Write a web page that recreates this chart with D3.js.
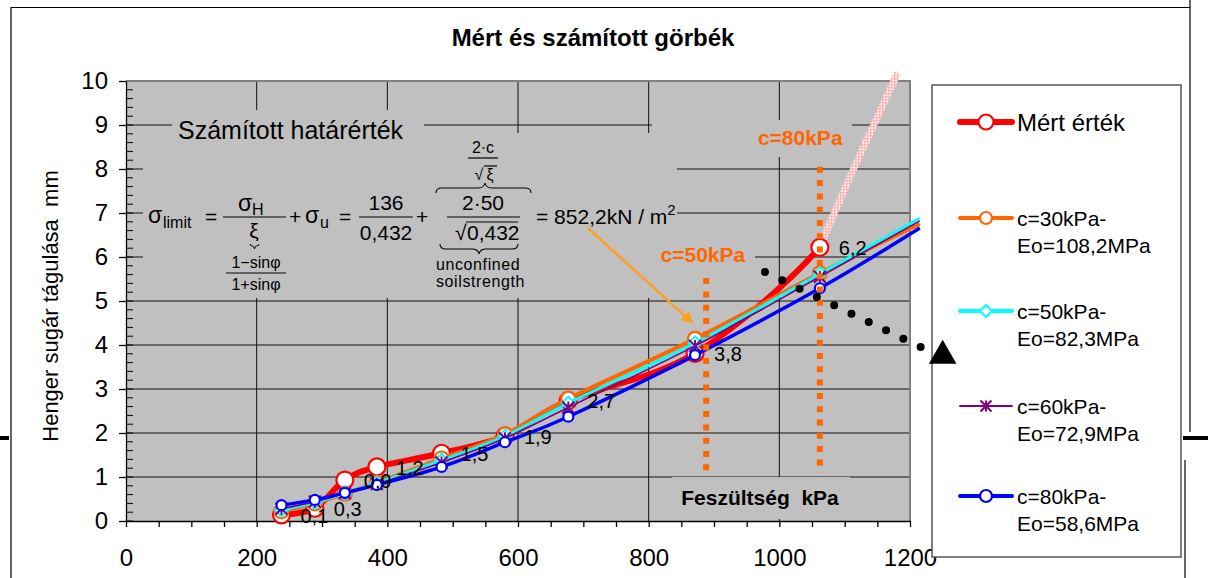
<!DOCTYPE html>
<html>
<head>
<meta charset="utf-8">
<script src="https://cdn.jsdelivr.net/npm/d3@7/dist/d3.min.js"></script>
<style>
  body { margin: 0; background: #fff; }
  text { font-family: Arial, "Liberation Sans", sans-serif; fill: #000; }
</style>
</head>
<body>
<div id="chart"></div>
<script>
const width = 1208,
    height = 578;

// mért pontok (feszültség kPa -> tágulás mm)
const stress = [238, 289, 335, 384, 483, 580, 677, 871, 1062];
const measured = [0.14, 0.29, 0.93, 1.23, 1.54, 1.93, 2.74, 3.81, 6.22];

// számított görbék, az utolsó pont a tengelyen túl (jelölő nélkül)
const stressModel = [238, 289, 335, 384, 483, 580, 677, 871, 1062, 1215];
const c30 = [0.22, 0.40, 0.62, 0.87, 1.42, 1.97, 2.78, 4.14, 5.63, 6.75];
const c50 = [0.25, 0.42, 0.63, 0.86, 1.38, 1.93, 2.68, 4.05, 5.62, 6.88];
const c60 = [0.28, 0.44, 0.63, 0.84, 1.33, 1.88, 2.58, 3.98, 5.55, 6.82];
const c80 = [0.36, 0.48, 0.64, 0.82, 1.23, 1.79, 2.37, 3.77, 5.29, 6.66];

const xTicks = [0, 200, 400, 600, 800, 1000, 1200];
const yTicks = [0, 1, 2, 3, 4, 5, 6, 7, 8, 9, 10];

// rózsaszín folytatás a mért görbe végén
const pinkX = [1062, 1073, 1113, 1143, 1181];
const pinkY = [6.22, 6.61, 7.98, 8.95, 10.18];

// fekete pontozott nyíl
const dotX = [978, 1217];
const dotY = [5.66, 3.95];
const triX = [1250];
const triY = [3.8];

// határérték függőleges vonalak (c=50kPa, c=80kPa)
const limitX = [888, 1062];
const limitTop = [5.52, 8.05];
const limitBottom = 1.09;
const limitNames = ['c=50kPa', 'c=80kPa'];
const limitLabelY = [6.07, 8.73];
const limitLabelX = [883, 1032];

// narancs nyíl a képlettől
const arrowX = [707, 866];
const arrowY = [6.66, 4.52];

const svg = d3.select('#chart')
    .append('svg')
    .attr('width', width)
    .attr('height', height);

const x = d3.scaleLinear().domain([0, 1200]).range([126, 910]);
const y = d3.scaleLinear().domain([0, 10]).range([521, 81]);

const defs = svg.append('defs');
const hatch = defs.append('pattern')
    .attr('id', 'pinkHatch')
    .attr('width', 3).attr('height', 3)
    .attr('patternUnits', 'userSpaceOnUse');
hatch.append('rect').attr('width', 3).attr('height', 3).attr('fill', '#ffcccc');
hatch.append('rect').attr('width', 1.5).attr('height', 1.5).attr('fill', '#ffa3a3');
hatch.append('rect').attr('x', 1.5).attr('y', 1.5).attr('width', 1.5).attr('height', 1.5).attr('fill', '#ffeeee');

defs.append('marker')
    .attr('id', 'arrowHead')
    .attr('viewBox', '0 0 10 10')
    .attr('refX', 8).attr('refY', 5)
    .attr('markerWidth', 5).attr('markerHeight', 5)
    .attr('orient', 'auto')
    .append('path')
    .attr('d', 'M0,0 L10,5 L0,10 z')
    .attr('fill', '#ffa020');

// a mért görbe a rózsaszín folytatás irányába simul, de az utolsó mért pontnál vége
defs.append('clipPath')
    .attr('id', 'redClip')
    .append('rect')
    .attr('x', 0).attr('y', 0)
    .attr('width', x(stress[stress.length - 1])).attr('height', height);

// keret
const frame = svg.append('g').attr('stroke', '#000').attr('fill', 'none');
frame.append('path').attr('d', 'M11,578 L11,7.5 L1190,7.5').attr('stroke-width', 1.2);
frame.append('path').attr('d', 'M1190,0 L1190,432').attr('stroke-width', 1.2);
frame.append('path').attr('d', 'M1185,460 L1185,578').attr('stroke-width', 1.2);
frame.append('path').attr('d', 'M1183,438 L1208,438').attr('stroke-width', 4);
frame.append('path').attr('d', 'M0,438 L9,438').attr('stroke-width', 4);

// cím
svg.append('text')
    .attr('x', 593).attr('y', 46)
    .attr('text-anchor', 'middle')
    .attr('font-size', 24)
    .attr('font-weight', 'bold')
    .text('Mért és számított görbék');

// rajzterület
svg.append('rect')
    .attr('x', x(0)).attr('y', y(10))
    .attr('width', x(1200) - x(0)).attr('height', y(0) - y(10))
    .attr('fill', '#c0c0c0');

const grid = svg.append('g').attr('stroke', '#111').attr('stroke-width', 1);
grid.selectAll('.hg')
    .data(yTicks.filter(d => d > 0 && d < 10))
    .enter().append('line')
    .attr('x1', x(0)).attr('x2', x(1200))
    .attr('y1', d => y(d)).attr('y2', d => y(d));
grid.selectAll('.vg')
    .data(xTicks.filter(d => d > 0 && d < 1200))
    .enter().append('line')
    .attr('y1', y(0)).attr('y2', y(10))
    .attr('x1', d => x(d)).attr('x2', d => x(d));

svg.append('path')
    .attr('d', `M${x(0)},${y(10)} L${x(1200)},${y(10)} L${x(1200)},${y(0)}`)
    .attr('fill', 'none').attr('stroke', '#808080').attr('stroke-width', 2);

// szöveg hátterek (eltakarják a rácsot)
const bg = svg.append('g').attr('fill', '#c0c0c0');
bg.append('rect').attr('x', 172).attr('y', 110).attr('width', 252).attr('height', 38);
bg.append('rect').attr('x', 143).attr('y', 133).attr('width', 534).attr('height', 165);
bg.append('rect').attr('x', 652).attr('y', 236).attr('width', 103).attr('height', 38);
bg.append('rect').attr('x', 652).attr('y', 120).attr('width', 200).attr('height', 37);
bg.append('rect').attr('x', 672).attr('y', 477).attr('width', 178).attr('height', 42);

// tengelyek
const xAxis = d3.axisBottom(x)
    .tickValues(d3.range(0, 1201, 50))
    .tickSize(6).tickSizeOuter(0).tickPadding(22)
    .tickFormat(d => d % 200 === 0 ? d : '');
svg.append('g')
    .attr('transform', `translate(0,${y(0)})`)
    .call(xAxis)
    .call(g => g.selectAll('text').attr('font-size', 24).attr('font-family', 'Arial, "Liberation Sans", sans-serif'))
    .call(g => g.selectAll('line, path').attr('stroke', '#000').attr('stroke-width', 1.3));

const yAxis = d3.axisLeft(y)
    .tickValues(yTicks)
    .tickSize(7).tickSizeOuter(0).tickPadding(11);
svg.append('g')
    .attr('transform', `translate(${x(0)},0)`)
    .call(yAxis)
    .call(g => g.selectAll('text').attr('font-size', 24).attr('font-family', 'Arial, "Liberation Sans", sans-serif'))
    .call(g => g.selectAll('line, path').attr('stroke', '#000').attr('stroke-width', 1.3));

// y kis osztások befelé
svg.append('g').selectAll('line')
    .data(d3.range(0, 50).map(i => i * 0.2))
    .enter().append('line')
    .attr('x1', x(0)).attr('x2', x(0) + 7)
    .attr('y1', d => y(d)).attr('y2', d => y(d))
    .attr('stroke', '#000').attr('stroke-width', 1);

svg.append('text')
    .attr('transform', 'translate(58,306) rotate(-90)')
    .attr('text-anchor', 'middle')
    .attr('font-size', 22)
    .style('white-space', 'pre')
    .text('Henger sugár tágulása  mm');

svg.append('text')
    .attr('x', 760).attr('y', 505)
    .attr('text-anchor', 'middle')
    .attr('font-size', 21)
    .attr('font-weight', 'bold')
    .style('white-space', 'pre')
    .text('Feszültség  kPa');

// képlet
const f = svg.append('g');
function t(xx, yy, s, size, anchor) {
    return f.append('text')
        .attr('x', xx).attr('y', yy)
        .attr('font-size', size)
        .attr('text-anchor', anchor || 'start')
        .text(s);
}
function ln(x1, y1, x2, y2) {
    f.append('line').attr('x1', x1).attr('y1', y1).attr('x2', x2).attr('y2', y2)
        .attr('stroke', '#000').attr('stroke-width', 1.2);
}
t(178, 139, 'Számított határérték', 25);
t(148, 223, 'σ', 23);
t(163, 228, 'limit', 16);
t(205, 224, '=', 21);
t(238, 211, 'σ', 23);
t(252, 215, 'H', 16);
ln(223, 217, 286, 217);
t(254, 238, 'ξ', 21, 'middle');
f.append('path').attr('d', 'M250,244 Q250,246 252.5,246 Q254,246 254.5,249 Q255,246 256.5,246 Q259,246 259,244')
    .attr('fill', 'none').attr('stroke', '#000').attr('stroke-width', 1);
t(256, 268, '1−sinφ', 16, 'middle');
ln(226, 273, 286, 273);
t(256, 290, '1+sinφ', 16, 'middle');
t(289, 224, '+', 21);
t(305, 223, 'σ', 23);
t(320, 228, 'u', 16);
t(339, 224, '=', 21);
t(386, 210, '136', 21, 'middle');
ln(359, 217, 413, 217);
t(386, 240, '0,432', 21, 'middle');
t(416, 224, '+', 21);
f.append('path')
    .attr('d', 'M436,193 Q436,188 442,188 L478,188 Q484,188 485,183 Q486,188 492,188 L525,188 Q531,188 531,193')
    .attr('fill', 'none').attr('stroke', '#000').attr('stroke-width', 1.1);
t(483, 153, '2·c', 16, 'middle');
ln(468, 158, 498, 158);
t(479, 180, '√', 16, 'middle');
t(490, 180, 'ξ', 16, 'middle');
ln(484, 166, 497, 166);
t(483, 210, '2·50', 21, 'middle');
ln(447, 217, 520, 217);
t(455, 240, '√', 21);
t(467, 240, '0,432', 21);
ln(466, 222, 518, 222);
f.append('path')
    .attr('d', 'M440,244 Q440,249 446,249 L472,249 Q478,249 479,254 Q480,249 486,249 L512,249 Q518,249 518,244')
    .attr('fill', 'none').attr('stroke', '#000').attr('stroke-width', 1.1);
t(436, 270, 'unconfined', 16).attr('letter-spacing', 0.6);
t(436, 287, 'soilstrength', 16).attr('letter-spacing', 0.6);
f.append('text')
    .attr('x', 536).attr('y', 224)
    .attr('font-size', 21)
    .style('white-space', 'pre')
    .text('= 852,2kN / m')
    .append('tspan').attr('font-size', 15).attr('dy', -9).text('2');

// görbék (Excel-szerű simítás)
const line = d3.line()
    .x(d => x(d[0]))
    .y(d => y(d[1]))
    .curve(d3.curveCatmullRom.alpha(0));

const series = [
    { label: ['Mért érték'], xs: stress, ys: measured, color: '#ff0000', w: 6, mark: 'circle', r: 8.5, lsize: 24 },
    { label: ['c=30kPa-', 'Eo=108,2MPa'], xs: stressModel, ys: c30, color: '#ff6600', w: 4, mark: 'circle', r: 7, lsize: 21 },
    { label: ['c=50kPa-', 'Eo=82,3MPa'], xs: stressModel, ys: c50, color: '#00ffff', w: 3, mark: 'diamond', r: 6.5, lsize: 21 },
    { label: ['c=60kPa-', 'Eo=72,9MPa'], xs: stressModel, ys: c60, color: '#800080', w: 1.6, mark: 'star', r: 6, lsize: 21 },
    { label: ['c=80kPa-', 'Eo=58,6MPa'], xs: stressModel, ys: c80, color: '#0000ff', w: 3.5, mark: 'circle', r: 5, lsize: 21 }
];

function drawMarker(g, s, cx, cy) {
    if (s.mark === 'circle') {
        g.append('circle').attr('cx', cx).attr('cy', cy).attr('r', s.r)
            .attr('fill', '#fff').attr('stroke', s.color).attr('stroke-width', 2.2);
    } else if (s.mark === 'diamond') {
        g.append('path')
            .attr('d', `M${cx},${cy - s.r} L${cx + s.r},${cy} L${cx},${cy + s.r} L${cx - s.r},${cy} Z`)
            .attr('fill', '#fff').attr('stroke', s.color).attr('stroke-width', 2);
    } else {
        const r = s.r;
        g.append('path')
            .attr('d', `M${cx - r},${cy - r} L${cx + r},${cy + r} M${cx + r},${cy - r} L${cx - r},${cy + r} M${cx},${cy - r} L${cx},${cy + r}`)
            .attr('stroke', s.color).attr('stroke-width', 2);
    }
}

// rózsaszín meghosszabbítás
svg.append('path')
    .datum(pinkX.map((d, i) => [d, pinkY[i]]))
    .attr('d', line)
    .attr('fill', 'none')
    .attr('stroke', 'url(#pinkHatch)')
    .attr('stroke-width', 7);

series.forEach(function(s, si) {
    let pts = s.xs.map((d, i) => [d, s.ys[i]]);
    const g = svg.append('g');
    // a mért görbénél a folytatás egy pontja adja a végérintőt, a többit levágjuk
    const shape = si === 0 ? pts.concat([[pinkX[2], pinkY[2]]]) : pts;
    const p = g.append('path')
        .datum(shape)
        .attr('d', line)
        .attr('fill', 'none')
        .attr('stroke', s.color)
        .attr('stroke-width', s.w)
        .attr('stroke-linejoin', 'round');
    if (si === 0) p.attr('clip-path', 'url(#redClip)');
    pts.slice(0, stress.length).forEach(q => drawMarker(g, s, x(q[0]), y(q[1])));
});

// adatfeliratok
svg.append('g').selectAll('text')
    .data(measured)
    .enter().append('text')
    .attr('x', (d, i) => x(stress[i]) + 19)
    .attr('y', d => y(d) + 8)
    .attr('font-size', 20)
    .text(d => d3.format('.1f')(d).replace('.', ','));

// határérték vonalak
svg.append('g').selectAll('line')
    .data(limitX)
    .enter().append('line')
    .attr('x1', d => x(d)).attr('x2', d => x(d))
    .attr('y1', (d, i) => y(limitTop[i]))
    .attr('y2', y(limitBottom))
    .attr('stroke', '#ff6600')
    .attr('stroke-width', 6)
    .attr('stroke-dasharray', '6,7.3');
svg.append('g').selectAll('text')
    .data(limitNames)
    .enter().append('text')
    .attr('x', (d, i) => x(limitLabelX[i]))
    .attr('y', (d, i) => y(limitLabelY[i]) + 8)
    .attr('text-anchor', 'middle')
    .attr('font-size', 21)
    .attr('font-weight', 'bold')
    .style('fill', '#ff6600')
    .text(d => d);

// narancs nyíl
svg.append('line')
    .attr('x1', x(arrowX[0])).attr('y1', y(arrowY[0]))
    .attr('x2', x(arrowX[1])).attr('y2', y(arrowY[1]))
    .attr('stroke', '#ffa020').attr('stroke-width', 2.5)
    .attr('marker-end', 'url(#arrowHead)');

// jelmagyarázat
const legend = svg.append('g');
legend.append('rect')
    .attr('x', 932).attr('y', 85).attr('width', 249).attr('height', 472)
    .attr('fill', '#fff').attr('stroke', '#555').attr('stroke-width', 1.5);
const legendY = [122, 218, 311, 406, 496];
series.forEach(function(s, i) {
    const ly = legendY[i];
    legend.append('line')
        .attr('x1', 960).attr('x2', 1012)
        .attr('y1', ly).attr('y2', ly)
        .attr('stroke', s.color).attr('stroke-width', i === 0 ? 6 : (i === 3 ? 2 : 4))
        .attr('stroke-linecap', 'round');
    drawMarker(legend, Object.assign({}, s, { r: i === 0 ? 7.5 : (i === 3 ? 5.5 : 6) }), 986, ly);
    s.label.forEach(function(l, j) {
        legend.append('text')
            .attr('x', 1017)
            .attr('y', ly + (i === 0 ? 9 : 8) + j * 27)
            .attr('font-size', s.lsize)
            .text(l);
    });
});

// fekete pontozott nyíl (a jelmagyarázat fölött)
svg.append('line')
    .attr('x1', x(dotX[0])).attr('y1', y(dotY[0]))
    .attr('x2', x(dotX[1])).attr('y2', y(dotY[1]))
    .attr('stroke', '#000').attr('stroke-width', 8)
    .attr('stroke-linecap', 'round')
    .attr('stroke-dasharray', '0,19.2');
svg.append('path')
    .attr('d', d3.symbol(d3.symbolTriangle, 330)())
    .attr('transform', `translate(${x(triX[0])},${y(triY[0]) + 2})`)
    .attr('fill', '#000');
</script>
</body>
</html>
